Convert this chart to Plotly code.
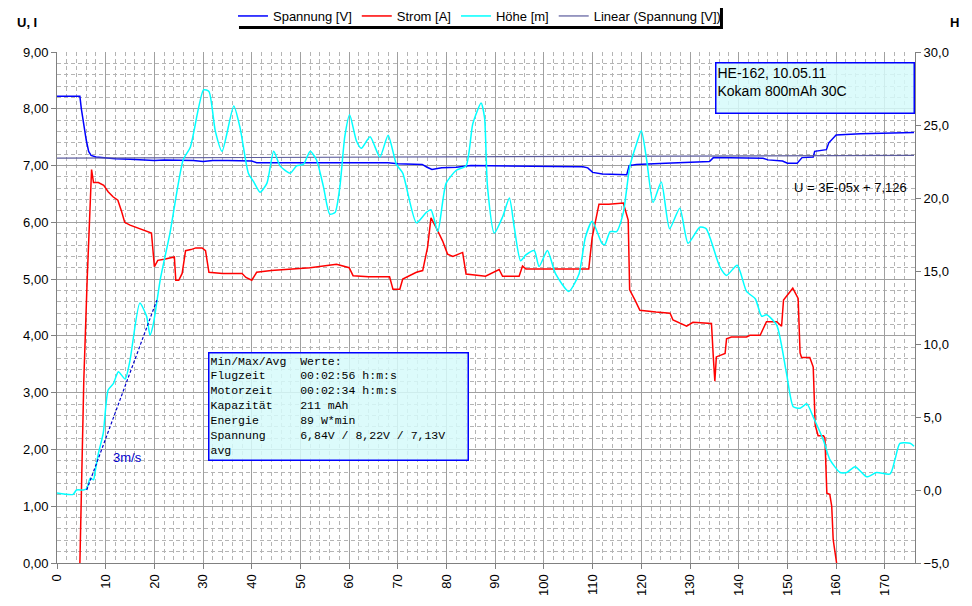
import plotly.graph_objects as go

# Spannung [V]  (time in s)
volt_t = [0, 4.7, 5.0, 5.5, 6.0, 6.5, 7.0, 8, 10, 12, 15, 18, 20, 22, 25, 28, 30, 32, 35, 40, 41,
          50, 60, 68, 70, 75, 76, 77, 79, 82, 85, 100, 108, 109, 110, 112, 117, 117.5, 119, 125,
          134, 134.8, 145, 146, 149, 150, 152, 153, 155.3, 155.6, 158, 158.5, 159.3, 160, 165, 176]
volt_v = [8.22, 8.22, 8.0, 7.7, 7.45, 7.25, 7.18, 7.15, 7.13, 7.12, 7.11, 7.1, 7.09, 7.1, 7.1, 7.09, 7.07, 7.09, 7.09, 7.08, 7.05,
          7.05, 7.05, 7.05, 7.03, 7.02, 6.97, 6.93, 6.96, 6.97, 7.0, 6.99, 6.98, 6.96, 6.88, 6.85, 6.84, 7.0, 7.02, 7.04,
          7.07, 7.14, 7.13, 7.1, 7.08, 7.04, 7.04, 7.14, 7.15, 7.25, 7.28, 7.4, 7.48, 7.54, 7.56, 7.58]

# Strom [A]
curr_t = [4.7, 5.1, 5.5, 6.2, 7.1, 7.5, 8.5, 9.6, 10.5, 11.5, 12.5, 13.2, 13.9, 15, 16.5, 18, 19.4, 20, 20.7, 22,
          24.1, 24.4, 25, 25.7, 26.4, 27.5, 28.5, 29.8, 30.5, 31.2, 34, 38, 38.8, 40, 41, 44, 48, 52, 57.4, 60,
          60.8, 64, 68.3, 69, 70.4, 71, 73.8, 75.1, 76.1, 76.8, 77.9, 79.2, 80.2, 81.3, 83.3, 84, 88, 90.8, 91.5, 94.9,
          95.6, 96.3, 100, 105, 109.2, 109.9, 111.3, 113.3, 116.3, 117.3, 117.6, 118.7, 119.7, 123, 125.9, 126.5, 129.3, 130.6, 134.4, 134.8,
          135.1, 135.4, 137.2, 137.5, 138.5, 141.6, 142.3, 144.4, 145.7, 147.8, 148.8, 149.2, 149.9, 150.5, 151.1, 152.2, 152.6, 152.9, 154.6, 155.3,
          155.7, 156.3, 157.4, 157.7, 158.1, 158.7, 159.1, 159.4, 160.1]
curr_v = [0.0, 1.64, 3.2, 5.0, 6.93, 6.7, 6.7, 6.65, 6.54, 6.45, 6.39, 6.21, 6.0, 5.95, 5.9, 5.85, 5.81, 5.22, 5.33, 5.35,
          5.39, 4.98, 4.98, 5.1, 5.5, 5.52, 5.55, 5.55, 5.5, 5.12, 5.1, 5.1, 5.03, 4.98, 5.12, 5.15, 5.18, 5.2, 5.26, 5.2,
          5.06, 5.04, 5.04, 4.82, 4.82, 5.0, 5.12, 5.15, 5.56, 6.08, 5.9, 5.67, 5.44, 5.4, 5.47, 5.09, 5.05, 5.17, 5.05, 5.05,
          5.23, 5.18, 5.18, 5.18, 5.18, 5.73, 6.32, 6.32, 6.34, 6.04, 4.81, 4.63, 4.45, 4.42, 4.4, 4.28, 4.17, 4.24, 4.22, 3.6,
          3.2, 3.63, 3.69, 3.95, 3.98, 3.98, 4.01, 4.01, 4.25, 4.25, 4.17, 4.63, 4.7, 4.78, 4.84, 4.66, 3.7, 3.62, 3.62, 3.45,
          2.43, 2.24, 2.24, 2.2, 1.23, 1.21, 1.0, 0.41, 0.0]

# Höhe [m]
hoehe_t = [0, 3.3, 4.0, 5.4, 6.1, 6.8, 7.5, 7.8, 8.5, 9.5, 10.5, 11.6, 12.6, 14, 15, 17, 18.4, 19.1, 19.8, 21.2,
           23.2, 25.9, 27.4, 30.1, 31.2, 32.5, 33.9, 36.3, 37.6, 39.3, 40.4, 41.7, 43.1, 44.5, 45.8, 47.9, 49.2, 50.6, 52, 53.3,
           54.7, 56, 57.1, 58.1, 59.1, 60.1, 61.5, 62.5, 64.3, 66.3, 68, 69.7, 71, 73.8, 75.8, 76.8, 78.2, 79.9, 82, 84,
           85.4, 87.1, 87.8, 88.4, 89.8, 91.5, 92.9, 93.9, 95.2, 96.3, 98, 99, 100.7, 102.4, 105.1, 107.2, 108.5, 109.9, 111.9, 112.5,
           113.6, 114.9, 116.3, 117.6, 119, 120, 121.1, 122.4, 124.1, 125.8, 127.9, 129.6, 132, 133.3, 136.1, 137.5, 139.7, 141.6, 143.4, 144.7,
           145.7, 147.8, 149.8, 151.2, 152.6, 154, 155.3, 157.4, 158.7, 160.8, 162.2, 163.9, 166.3, 168.3, 171.1, 172.1, 173.1, 175.2, 176]
hoehe_v = [-0.2, -0.3, 0.0, 0.0, 0.08, 0.8, 0.7, 1.2, 2.5, 3.9, 6.85, 7.3, 8.1, 7.6, 8.9, 12.8, 11.9, 10.6, 11.4, 14.4,
           17.6, 22.6, 23.5, 27.4, 27.3, 24.6, 23.2, 26.3, 24.8, 21.7, 21.1, 20.4, 21.0, 23.2, 22.2, 21.7, 22.2, 22.3, 23.2, 22.6,
           20.8, 18.9, 19.0, 20.8, 24.2, 25.7, 23.9, 23.4, 24.2, 22.8, 24.3, 22.3, 21.7, 18.3, 19.0, 19.2, 17.7, 21.0, 21.9, 22.2,
           25.1, 26.5, 25.5, 20.8, 17.6, 18.7, 20.0, 18.0, 15.7, 16.1, 16.4, 15.3, 16.4, 14.8, 13.6, 14.8, 17.3, 18.4, 16.9, 16.8,
           17.7, 17.7, 19.0, 22.1, 23.7, 24.6, 22.6, 19.7, 21.1, 17.9, 19.3, 16.9, 18.0, 17.9, 15.3, 14.7, 15.4, 13.6, 13.1, 11.9,
           12.0, 11.3, 8.0, 5.7, 5.6, 5.9, 5.0, 3.4, 2.1, 1.2, 1.2, 1.6, 0.9, 1.2, 1.1, 2.1, 3.2, 3.2, 3.0]

# Linear (Spannung [V]) trend
trend_t = [0, 176]
trend_v = [7.13, 7.18]

# climb rate marker "3m/s"
climb_t = [6.1, 20.5]
climb_h = [0.0, 13.0]

info_lines = [
    ("Min/Max/Avg", "Werte:"),
    ("Flugzeit", "00:02:56 h:m:s"),
    ("Motorzeit", "00:02:34 h:m:s"),
    ("Kapazität", "211 mAh"),
    ("Energie", "89 W*min"),
    ("Spannung", "6,84V / 8,22V / 7,13V"),
    ("avg", ""),
]

font = "Liberation Sans, Arial, sans-serif"
grid = "#a0a0a0"
minor_grid = "#b4b4b4"

fig = go.Figure()
fig.add_trace(go.Scatter(x=volt_t, y=volt_v, mode="lines", name="Spannung [V]",
                         line=dict(color="#0000ff", width=1.5)))
fig.add_trace(go.Scatter(x=curr_t, y=curr_v, mode="lines", name="Strom [A]",
                         line=dict(color="#ff0000", width=1.5)))
fig.add_trace(go.Scatter(x=hoehe_t, y=hoehe_v, mode="lines", name="Höhe [m]", yaxis="y2",
                         line=dict(color="#00ffff", width=1.5, shape="spline", smoothing=0.6)))
fig.add_trace(go.Scatter(x=trend_t, y=trend_v, mode="lines", name="Linear (Spannung [V])",
                         line=dict(color="#5a5a9c", width=1.2)))
fig.add_trace(go.Scatter(x=climb_t, y=climb_h, mode="lines", yaxis="y2", showlegend=False,
                         line=dict(color="#0000cc", width=1.2, dash="3px,2px")))

info_text = "<br>".join(
    (a + "\u00a0" * (13 - len(a)) + b) if b else a for a, b in info_lines
)

fig.add_annotation(xref="paper", yref="paper", x=0.7669, y=0.98, xanchor="left", yanchor="top",
                   text="HE-162, 10.05.11<br>Kokam 800mAh 30C", align="left", valign="top",
                   width=195, height=47, borderpad=1, showarrow=False,
                   bgcolor="rgba(214,250,250,0.85)", bordercolor="#0000ff", borderwidth=1.5,
                   font=dict(family=font, size=14, color="black"))
fig.add_annotation(xref="paper", yref="paper", x=0.1760, y=0.412, xanchor="left", yanchor="top",
                   text=info_text, align="left", valign="top",
                   width=256, height=104, borderpad=1, showarrow=False,
                   bgcolor="rgba(214,250,250,0.85)", bordercolor="#0000ff", borderwidth=1.5,
                   font=dict(family="Liberation Mono, Courier New, monospace", size=11.5, color="black"))
fig.add_annotation(x=163, y=6.62, text="U = 3E-05x + 7,126", showarrow=False,
                   font=dict(family=font, size=13, color="black"))
fig.add_annotation(x=14.4, y=1.85, text="3m/s", showarrow=False,
                   font=dict(family=font, size=13, color="#0000cc"))
fig.add_annotation(xref="paper", yref="paper", x=-0.0344, y=1.058, xanchor="center", yanchor="middle",
                   text="<b>U, I</b>", showarrow=False,
                   font=dict(family=font, size=13, color="black"))
fig.add_annotation(xref="paper", yref="paper", x=1.0466, y=1.058, xanchor="center", yanchor="middle",
                   text="<b>H</b>", showarrow=False,
                   font=dict(family=font, size=13, color="black"))

# legend frame: black shadow, white panel on top (its top edge runs off the page)
fig.add_shape(type="rect", xref="paper", yref="paper", x0=0.2121, x1=0.7762, y0=1.0450, y1=1.0959,
              line=dict(width=0), fillcolor="black", layer="above")
fig.add_shape(type="rect", xref="paper", yref="paper", x0=0.2086, x1=0.7727, y0=1.0509, y1=1.0959,
              line=dict(width=0), fillcolor="white", layer="above")

# page body has an 8px margin: size the figure so the plot area lands where the original is
fig.update_layout(
    width=964, height=598,
    margin=dict(l=49, r=57, t=44, b=43, autoexpand=False),
    paper_bgcolor="white", plot_bgcolor="white",
    separators=",.",
    font=dict(family=font, size=13, color="black"),
    showlegend=True,
    legend=dict(orientation="h", x=0.4924, xanchor="center", y=1.0998, yanchor="top",
                bgcolor="rgba(0,0,0,0)", borderwidth=0,
                font=dict(family=font, size=13), itemwidth=30, tracegroupgap=0),
    xaxis=dict(range=[0, 176.2], dtick=10, tick0=0, tickangle=-90, ticks="outside", ticklen=5,
               tickcolor="#808080", showline=True, linecolor="#808080", linewidth=1,
               showgrid=True, gridcolor=grid, gridwidth=1, zeroline=False, automargin=False,
               minor=dict(dtick=2, showgrid=True, gridcolor=minor_grid, griddash="4px,3px", gridwidth=1),
               tickfont=dict(size=13)),
    yaxis=dict(range=[0, 9], dtick=1, tick0=0, tickformat=".2f", ticks="outside", ticklen=5,
               tickcolor="#808080", showline=True, linecolor="#808080", linewidth=1,
               showgrid=True, gridcolor=grid, gridwidth=1, zeroline=False, automargin=False,
               minor=dict(dtick=0.2, showgrid=True, gridcolor=minor_grid, griddash="4px,3px", gridwidth=1),
               tickfont=dict(size=13)),
    yaxis2=dict(range=[-5, 30], dtick=5, tick0=0, tickformat=".1f", overlaying="y", side="right",
                ticks="outside", ticklen=5, tickcolor="#808080", showline=True, linecolor="#808080",
                linewidth=1, showgrid=False, zeroline=False, automargin=False, tickfont=dict(size=13)),
)

fig.write_html("out.html")
